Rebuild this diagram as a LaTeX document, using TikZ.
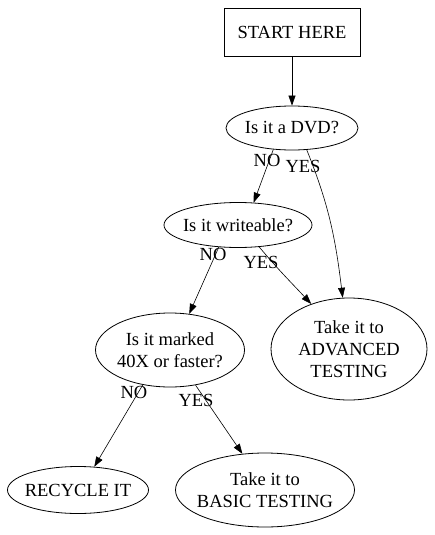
\documentclass[tikz,border=0pt]{standalone}
\usepackage{fontspec}
\setmainfont{Liberation Serif}
\usetikzlibrary{arrows.meta,shapes.geometric}
\begin{document}
\begin{tikzpicture}[x=1pt,y=-1pt,
  every node/.style={font=\fontsize{18.5}{22}\selectfont},
  box/.style={draw,line width=0.8pt,rectangle,inner sep=0pt,align=center},
  ell/.style={draw,line width=0.8pt,ellipse,inner ysep=0pt,inner xsep=-10pt,align=center},
  conn/.style={line width=0.6pt,-{Triangle[length=10pt,width=7pt]}},
  lab/.style={inner sep=0pt}]
\useasboundingbox (0,0) rectangle (435,535);
\node[box,minimum width=136pt,minimum height=48pt] (start) at (292,32) {START HERE};
\node[ell,minimum width=132pt,minimum height=44pt] (dvd) at (292,128) {Is it a DVD?};
\node[ell,minimum width=148pt,minimum height=45pt] (wr) at (238,225) {Is it writeable?};
\node[ell,minimum width=156pt,minimum height=102pt] (adv) at (349,349) {Take it to\\ADVANCED\\TESTING};
\node[ell,minimum width=149pt,minimum height=74pt] (fast) at (170,350) {Is it marked\\40X or faster?};
\node[ell,minimum width=141pt,minimum height=47pt] (rec) at (78,490) {RECYCLE IT};
\node[ell,minimum width=179pt,minimum height=74pt] (basic) at (265,490) {Take it to\\BASIC TESTING};

\draw[conn] (start) -- (dvd);
\draw[conn] (dvd.-131) -- (wr.55);
\draw[conn] (dvd.-56) to[out=-68,in=97] (adv.97);
\draw[conn] (wr.-131) -- (fast.62);
\draw[conn] (wr.-46) to[out=-50,in=133] (adv.130);
\draw[conn] (fast.-128) -- (rec.55);
\draw[conn] (fast.-54) -- (basic.122);

\node[lab] (l1) at (267,160) {NO};
\node[lab] (l2) at (303,166) {YES};
\node[lab] (l3) at (213,254) {NO};
\node[lab] (l4) at (261,262) {YES};
\node[lab] (l5) at (134,392) {NO};
\node[lab] (l6) at (196,400) {YES};
\end{tikzpicture}
\end{document}
